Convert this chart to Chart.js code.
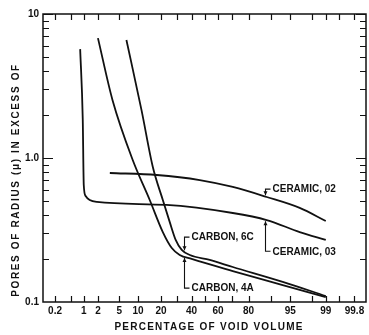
<!DOCTYPE html>
<html>
<head>
<meta charset="utf-8">
<script src="https://cdn.jsdelivr.net/npm/chart.js@4.4.1/dist/chart.umd.min.js"></script>
<style>
  html, body { margin: 0; padding: 0; background: #fff; }
  #wrap { width: 369px; height: 335px; position: relative; }
</style>
</head>
<body>
<div id="wrap"><canvas id="pores"></canvas></div>
<script>
// values: x = percentage of void volume, y = pore radius (microns)
const ceramic02Pct = [3.4, 17.8, 46.2, 70.5, 88.3, 96.6, 99];
const ceramic02Radius = [0.787, 0.762, 0.703, 0.629, 0.536, 0.45, 0.365];

const ceramic03Pct = [0.83, 0.95, 1.0, 1.1, 1.35, 1.9, 23, 70.5, 88.3, 96.6, 99];
const ceramic03Radius = [5.7, 1.84, 0.65, 0.545, 0.511, 0.495, 0.472, 0.415, 0.371, 0.306, 0.27];

const carbon6cPct = [6.6, 11.2, 15.9, 21, 25, 28.8, 32.9, 38.7, 53.8, 70.5, 93.3, 99];
const carbon6cRadius = [6.6, 2.15, 0.866, 0.511, 0.36, 0.27, 0.23, 0.212, 0.196, 0.175, 0.138, 0.11];

const carbon4aPct = [2.0, 3.8, 8.3, 14.5, 21, 26.3, 31.5, 40, 70.5, 93.3, 99];
const carbon4aRadius = [6.8, 2.53, 0.969, 0.511, 0.306, 0.237, 0.212, 0.199, 0.164, 0.131, 0.108];

// probability-paper ticks
const xTickPct = [0.2, 0.5, 1, 2, 5, 10, 20, 30, 40, 50, 60, 70, 80, 90, 95, 98, 99, 99.5, 99.8];
const xTickLabels = ['0.2', '', '1', '2', '5', '10', '20', '', '40', '', '60', '', '80', '', '95', '', '99', '', '99.8'];
const yTickValues = [0.1, 1, 10];
const yTickLabels = ['0.1', '1.0', '10'];

// inverse normal cdf (Acklam), turns a percentage into the probability-paper position
function probit(p) {
  const a = [-3.969683028665376e+01, 2.209460984245205e+02, -2.759285104469687e+02, 1.383577518672690e+02, -3.066479806614716e+01, 2.506628277459239e+00];
  const b = [-5.447609879822406e+01, 1.615858368580409e+02, -1.556989798598866e+02, 6.680131188771972e+01, -1.328068155288572e+01];
  const c = [-7.784894002430293e-03, -3.223964580411365e-01, -2.400758277161838e+00, -2.549732539343734e+00, 4.374664141464968e+00, 2.938163982698783e+00];
  const d = [7.784695709041462e-03, 3.224671290700398e-01, 2.445134137142996e+00, 3.754408661907416e+00];
  const pl = 0.02425;
  if (p < pl) {
    const q = Math.sqrt(-2 * Math.log(p));
    return (((((c[0] * q + c[1]) * q + c[2]) * q + c[3]) * q + c[4]) * q + c[5]) / ((((d[0] * q + d[1]) * q + d[2]) * q + d[3]) * q + 1);
  }
  if (p > 1 - pl) {
    const q = Math.sqrt(-2 * Math.log(1 - p));
    return -(((((c[0] * q + c[1]) * q + c[2]) * q + c[3]) * q + c[4]) * q + c[5]) / ((((d[0] * q + d[1]) * q + d[2]) * q + d[3]) * q + 1);
  }
  const q = p - 0.5, r = q * q;
  return (((((a[0] * r + a[1]) * r + a[2]) * r + a[3]) * r + a[4]) * r + a[5]) * q / (((((b[0] * r + b[1]) * r + b[2]) * r + b[3]) * r + b[4]) * r + 1);
}

const toPoints = (pcts, vals) => pcts.map((p, i) => ({ x: probit(p / 100), y: vals[i] }));

const line = (label, pcts, vals) => ({
  label: label,
  data: toPoints(pcts, vals),
  borderColor: '#111',
  borderWidth: 1.8,
  pointRadius: 0,
  fill: false,
  cubicInterpolationMode: 'monotone'
});

// callouts: which dataset, where along x, leader direction and length (px)
const notes = [
  { text: 'CERAMIC, 02', ds: 0, pct: 87.6, dir: -1, len: 6 },
  { text: 'CERAMIC, 03', ds: 1, pct: 87.6, dir: 1, len: 30 },
  { text: 'CARBON, 6C', ds: 2, pct: 34.3, dir: -1, len: 13 },
  { text: 'CARBON, 4A', ds: 3, pct: 34.3, dir: 1, len: 30 }
];

const FONT = '"Liberation Sans", Arial, sans-serif';

function curveY(chart, ds, px) {
  const pts = chart.getDatasetMeta(ds).data;
  for (let i = 1; i < pts.length; i++) {
    if (pts[i].x >= px) {
      const t = (px - pts[i - 1].x) / (pts[i].x - pts[i - 1].x);
      return pts[i - 1].y + t * (pts[i].y - pts[i - 1].y);
    }
  }
  return pts[pts.length - 1].y;
}

function spacedText(ctx, text, x, y, target) {
  ctx.letterSpacing = '0px';
  const w = ctx.measureText(text).width;
  const ls = Math.max(0, (target - w) / (text.length - 1));
  ctx.letterSpacing = ls + 'px';
  ctx.fillText(text, x, y);
  ctx.letterSpacing = '0px';
}

const paperFrame = {
  id: 'paperFrame',
  afterDatasetsDraw(chart) {
    const { ctx, chartArea: a, scales: { x, y } } = chart;
    ctx.save();
    ctx.strokeStyle = '#111';
    ctx.lineWidth = 1.5;
    ctx.strokeRect(a.left, a.top, a.right - a.left, a.bottom - a.top);

    // inward ticks on all four sides
    ctx.lineWidth = 1.2;
    ctx.beginPath();
    xTickPct.forEach(p => {
      const px = Math.round(x.getPixelForValue(probit(p / 100))) + 0.5;
      ctx.moveTo(px, a.bottom); ctx.lineTo(px, a.bottom - 6);
      ctx.moveTo(px, a.top); ctx.lineTo(px, a.top + 6);
    });
    [0.1, 1].forEach(dec => {
      for (let m = 2; m <= 10; m++) {
        const v = dec * m;
        const py = Math.round(y.getPixelForValue(v)) + 0.5;
        const len = m === 10 ? 10 : 6;
        ctx.moveTo(a.left, py); ctx.lineTo(a.left + len, py);
        ctx.moveTo(a.right, py); ctx.lineTo(a.right - len, py);
      }
    });
    ctx.stroke();

    // callouts with leader lines
    ctx.fillStyle = '#111';
    ctx.font = 'bold 10px ' + FONT;
    ctx.textBaseline = 'middle';
    ctx.textAlign = 'left';
    ctx.lineWidth = 1.1;
    notes.forEach(n => {
      const px = Math.round(x.getPixelForValue(probit(n.pct / 100))) + 0.5;
      const cy = curveY(chart, n.ds, px) + n.dir * 1.5;
      const ty = cy + n.dir * n.len;
      ctx.beginPath();
      ctx.moveTo(px, cy); ctx.lineTo(px, ty); ctx.lineTo(px + 5, ty);
      ctx.stroke();
      ctx.beginPath();
      ctx.moveTo(px, cy);
      ctx.lineTo(px - 2, cy + n.dir * 4);
      ctx.lineTo(px + 2, cy + n.dir * 4);
      ctx.closePath();
      ctx.fill();
      ctx.fillText(n.text, px + 7, ty + 0.5);
    });

    // axis titles
    ctx.font = 'bold 10px ' + FONT;
    ctx.textAlign = 'center';
    spacedText(ctx, 'PERCENTAGE OF VOID VOLUME', 209, 327, 188);
    ctx.translate(16, 180);
    ctx.rotate(-Math.PI / 2);
    spacedText(ctx, 'PORES OF RADIUS (\u03BC) IN EXCESS OF', 0, 0, 232);
    ctx.restore();
  }
};

new Chart(document.getElementById('pores'), {
  type: 'line',
  data: {
    datasets: [
      line('CERAMIC, 02', ceramic02Pct, ceramic02Radius),
      line('CERAMIC, 03', ceramic03Pct, ceramic03Radius),
      line('CARBON, 6C', carbon6cPct, carbon6cRadius),
      line('CARBON, 4A', carbon4aPct, carbon4aRadius)
    ]
  },
  options: {
    responsive: true,
    maintainAspectRatio: false,
    animation: false,
    devicePixelRatio: 1,
    layout: { padding: { top: 14, right: 3, left: 0, bottom: 0 } },
    plugins: {
      legend: { display: false },
      tooltip: { enabled: false }
    },
    scales: {
      x: {
        type: 'linear',
        min: -3.11,
        max: 3.10,
        grid: { display: false, drawTicks: false },
        border: { display: false },
        afterBuildTicks: s => { s.ticks = xTickPct.map(p => ({ value: probit(p / 100) })); },
        afterFit: s => { s.height = 33; },
        ticks: {
          autoSkip: false,
          maxRotation: 0,
          padding: 3,
          color: '#111',
          font: { family: FONT, size: 10, weight: 'bold' },
          callback: (v, i) => xTickLabels[i]
        }
      },
      y: {
        type: 'logarithmic',
        min: 0.1,
        max: 10,
        grid: { display: false, drawTicks: false },
        border: { display: false },
        afterBuildTicks: s => { s.ticks = yTickValues.map(v => ({ value: v })); },
        afterFit: s => { s.width = 43; },
        ticks: {
          padding: 4,
          color: '#111',
          font: { family: FONT, size: 10, weight: 'bold' },
          callback: (v, i) => yTickLabels[i]
        }
      }
    }
  },
  plugins: [paperFrame]
});
</script>
</body>
</html>
